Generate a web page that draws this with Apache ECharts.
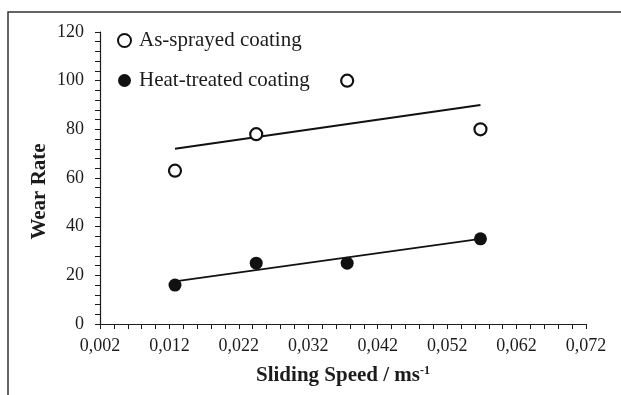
<!DOCTYPE html>
<html>
<head>
<meta charset="utf-8">
<script src="https://cdn.jsdelivr.net/npm/echarts@6/dist/echarts.min.js"></script>
<style>
  html, body { margin: 0; padding: 0; background: #fff; }
  #chart { width: 621px; height: 395px; }
</style>
</head>
<body>
<div id="chart"></div>
<script>
// values
const speeds = [0.0128, 0.0245, 0.0376, 0.0568]
const asSprayed = [63, 78, 100, 80]
const heatTreated = [16, 25, 25, 35]
// trend line end points
const trendX = [0.0128, 0.0568]
const asSprayedTrend = [72, 90]
const heatTreatedTrend = [17.5, 35]

const FONT = '"Liberation Serif", "Times New Roman", serif'
const INK = '#1c1c1c'

const chart = echarts.init(document.getElementById('chart'), null, { renderer: 'canvas' })

const pairs = (xs, ys) => xs.map((x, i) => [x, ys[i]])

chart.setOption({
    backgroundColor: '#fff',
    animation: false,
    grid: { left: 100, right: 35, top: 32, bottom: 71 },
    legend: {
        data: ['As-sprayed coating', 'Heat-treated coating'],
        orient: 'vertical',
        left: 117,
        top: 30,
        padding: 0,
        itemGap: 19,
        itemWidth: 13,
        itemHeight: 13,
        textStyle: { fontFamily: FONT, fontSize: 21, color: INK, padding: [0, 0, 0, 3] },
    },
    xAxis: {
        type: 'value',
        min: 0.002,
        max: 0.072,
        interval: 0.01,
        name: 'Sliding Speed / ms{sup|-1}',
        nameLocation: 'middle',
        nameGap: 41,
        nameTextStyle: {
            fontFamily: FONT, fontSize: 21, fontWeight: 'bold', color: INK,
            rich: { sup: { fontFamily: FONT, fontSize: 12, fontWeight: 'bold', color: INK, verticalAlign: 'top', padding: [0, 0, 10, 0] } },
        },
        axisLine: { lineStyle: { color: INK, width: 1.2 } },
        axisTick: { length: 5, lineStyle: { color: INK } },
        minorTick: { show: true, splitNumber: 5, length: 5, lineStyle: { color: INK } },
        splitLine: { show: false },
        axisLabel: {
            fontFamily: FONT, fontSize: 18, color: INK, margin: 13,
            formatter: v => v.toFixed(3).replace('.', ','),
        },
    },
    yAxis: {
        type: 'value',
        min: 0,
        max: 120,
        interval: 20,
        name: 'Wear Rate',
        nameLocation: 'middle',
        nameGap: 50,
        nameMoveOverlap: false,
        nameTextStyle: { fontFamily: FONT, fontSize: 21, fontWeight: 'bold', color: INK, padding: [0, 27, 0, 0] },
        axisLine: { show: true, lineStyle: { color: INK, width: 1.2 } },
        axisTick: { show: true, length: 5, lineStyle: { color: INK } },
        minorTick: { show: true, splitNumber: 5, length: 5, lineStyle: { color: INK } },
        splitLine: { show: false },
        axisLabel: { fontFamily: FONT, fontSize: 18, color: INK, margin: 16 },
    },
    series: [
        {
            name: 'As-sprayed trend',
            type: 'line',
            data: pairs(trendX, asSprayedTrend),
            symbol: 'none',
            lineStyle: { color: '#111', width: 2 },
            silent: true,
            z: 1,
        },
        {
            name: 'Heat-treated trend',
            type: 'line',
            data: pairs(trendX, heatTreatedTrend),
            symbol: 'none',
            lineStyle: { color: '#111', width: 1.6 },
            silent: true,
            z: 1,
        },
        {
            name: 'As-sprayed coating',
            type: 'scatter',
            data: pairs(speeds, asSprayed),
            symbol: 'circle',
            symbolSize: 12,
            itemStyle: { color: '#fff', borderColor: '#111', borderWidth: 2.2, opacity: 1 },
            z: 3,
        },
        {
            name: 'Heat-treated coating',
            type: 'scatter',
            data: pairs(speeds, heatTreated),
            symbol: 'circle',
            symbolSize: 13,
            itemStyle: { color: '#111', opacity: 1 },
            z: 3,
        },
    ],
    graphic: [
        {
            type: 'polyline',
            shape: { points: [[8, 395], [8, 12], [621, 12]] },
            style: { stroke: '#333', lineWidth: 1.5, fill: null },
            silent: true,
        },
    ],
})
</script>
</body>
</html>
